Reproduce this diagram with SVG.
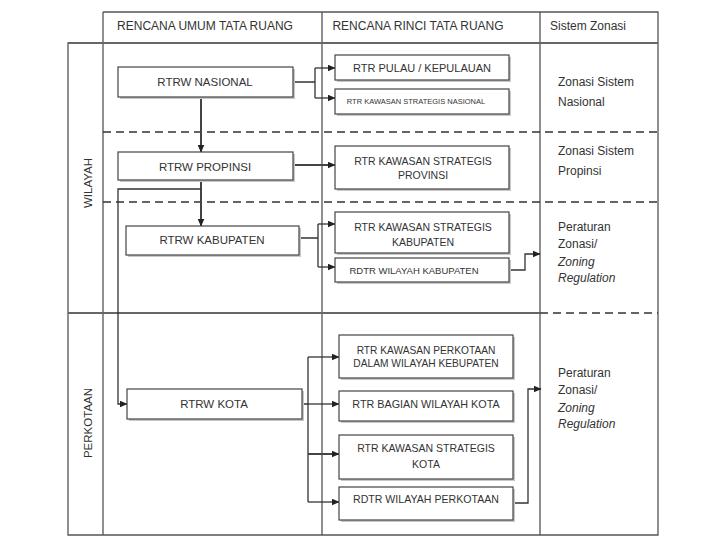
<svg xmlns="http://www.w3.org/2000/svg" width="720" height="540" viewBox="0 0 720 540">
<style>
.frame{fill:none;stroke:#555;stroke-width:1.3}
.thick{fill:none;stroke:#666;stroke-width:2.2}
.dash{fill:none;stroke:#333;stroke-width:1.4;stroke-dasharray:8 5}
.box{fill:#fff;stroke:#444;stroke-width:1.2}
.shadow{fill:#c8c8c8}
.t{font-family:"Liberation Sans",Arial,sans-serif;fill:#333;text-anchor:middle;dominant-baseline:central}
.z{font-family:"Liberation Sans",Arial,sans-serif;fill:#333;font-size:12px;dominant-baseline:central}
.i{font-style:italic}
.c{fill:none;stroke:#333;stroke-width:1.3}
.cb{fill:none;stroke:#444;stroke-width:2}
</style>
<defs>
<marker id="ah" markerWidth="8" markerHeight="7" refX="7.5" refY="3.5" orient="auto" markerUnits="userSpaceOnUse">
<path d="M0,0 L8,3.5 L0,7 z" fill="#222"/>
</marker>
</defs>
<rect width="720" height="540" fill="#fff"/>
<g id="table">
<path class="frame" d="M103,12 H658 V535 H68 V43 H103"/>
<path class="frame" d="M103,12 V535 M322,12 V535 M540,12 V535"/>
<path class="thick" d="M68,43 H658"/>
<path class="thick" d="M68,313 H540"/>
<path class="dash" d="M103,132 H658 M103,202 H658 M540,313 H658"/>
<text class="t" x="205" y="26" font-size="12">RENCANA UMUM TATA RUANG</text>
<text class="t" x="418" y="26" font-size="12">RENCANA RINCI TATA RUANG</text>
<text class="t" x="588" y="26" font-size="12">Sistem Zonasi</text>
<text class="t" x="88" y="183" font-size="11.5" transform="rotate(-90 88 183)">WILAYAH</text>
<text class="t" x="88" y="423" font-size="11.5" transform="rotate(-90 88 423)">PERKOTAAN</text>
</g>
<g id="connectors">
<path class="c" d="M293,82 H315 M315,68 V98"/>
<path class="c" d="M315,68 H335" marker-end="url(#ah)"/>
<path class="c" d="M315,98 H335" marker-end="url(#ah)"/>
<path class="cb" d="M201,97 V152" marker-end="url(#ah)"/>
<path class="cb" d="M293,165 H335" marker-end="url(#ah)"/>
<path class="cb" d="M201,180 V226" marker-end="url(#ah)"/>
<path class="c" d="M201,189 H118 V404 H127" marker-end="url(#ah)"/>
<path class="c" d="M299,238 H318 M318,224 V267"/>
<path class="c" d="M318,224 H335" marker-end="url(#ah)"/>
<path class="c" d="M318,267 H335" marker-end="url(#ah)"/>
<path class="c" d="M509,270 H525 V254 H540" marker-end="url(#ah)"/>
<path class="c" d="M302,404 H308 M308,357 V502"/>
<path class="c" d="M308,357 H339" marker-end="url(#ah)"/>
<path class="c" d="M308,404 H339" marker-end="url(#ah)"/>
<path class="cb" d="M308,454 H339" marker-end="url(#ah)"/>
<path class="c" d="M308,502 H339" marker-end="url(#ah)"/>
<path class="c" d="M513,503 H528 V389 H541" marker-end="url(#ah)"/>
</g>
<g id="rtrw-nasional">
<rect class="shadow" x="120" y="69" width="175" height="30"/>
<rect class="box" x="118" y="67" width="175" height="30"/>
<text class="t" x="205" y="82" font-size="11.5">RTRW NASIONAL</text>
</g>
<g id="rtr-pulau">
<rect class="shadow" x="337" y="57" width="174" height="25"/>
<rect class="box" x="335" y="55" width="174" height="25"/>
<text class="t" x="422" y="67.5" font-size="11">RTR PULAU / KEPULAUAN</text>
</g>
<g id="rtr-ks-nasional">
<rect class="shadow" x="337" y="91" width="174" height="25"/>
<rect class="box" x="335" y="89" width="174" height="25"/>
<text class="t" x="416" y="101.5" font-size="7.5">RTR KAWASAN STRATEGIS NASIONAL</text>
</g>
<g id="rtrw-propinsi">
<rect class="shadow" x="120" y="154" width="175" height="28"/>
<rect class="box" x="118" y="152" width="175" height="28"/>
<text class="t" x="205" y="167" font-size="11.5">RTRW PROPINSI</text>
</g>
<g id="rtr-ks-provinsi">
<rect class="shadow" x="337" y="148" width="174" height="43"/>
<rect class="box" x="335" y="146" width="174" height="43"/>
<text class="t" x="423" y="161" font-size="10.5">RTR KAWASAN STRATEGIS</text>
<text class="t" x="423" y="175" font-size="10.5">PROVINSI</text>
</g>
<g id="rtrw-kabupaten">
<rect class="shadow" x="128" y="228" width="173" height="29"/>
<rect class="box" x="126" y="226" width="173" height="29"/>
<text class="t" x="212" y="240" font-size="11.5">RTRW KABUPATEN</text>
</g>
<g id="rtr-ks-kabupaten">
<rect class="shadow" x="337" y="214" width="174" height="41"/>
<rect class="box" x="335" y="212" width="174" height="41"/>
<text class="t" x="423" y="227" font-size="10.5">RTR KAWASAN STRATEGIS</text>
<text class="t" x="423" y="242" font-size="10.5">KABUPATEN</text>
</g>
<g id="rdtr-kabupaten">
<rect class="shadow" x="337" y="260" width="174" height="24"/>
<rect class="box" x="335" y="258" width="174" height="24"/>
<text class="t" x="414" y="270" font-size="9.5">RDTR WILAYAH KABUPATEN</text>
</g>
<g id="rtrw-kota">
<rect class="shadow" x="129" y="391" width="175" height="30"/>
<rect class="box" x="127" y="389" width="175" height="30"/>
<text class="t" x="214" y="404" font-size="11.5">RTRW KOTA</text>
</g>
<g id="rtr-kawasan-perkotaan">
<rect class="shadow" x="341" y="337" width="174" height="43"/>
<rect class="box" x="339" y="335" width="174" height="43"/>
<text class="t" x="426" y="350" font-size="10.2">RTR KAWASAN PERKOTAAN</text>
<text class="t" x="426" y="363" font-size="10.2">DALAM WILAYAH KEBUPATEN</text>
</g>
<g id="rtr-bagian-wilayah-kota">
<rect class="shadow" x="341" y="393" width="174" height="30"/>
<rect class="box" x="339" y="391" width="174" height="30"/>
<text class="t" x="426" y="404" font-size="10.8">RTR BAGIAN WILAYAH KOTA</text>
</g>
<g id="rtr-ks-kota">
<rect class="shadow" x="341" y="437" width="174" height="44"/>
<rect class="box" x="339" y="435" width="174" height="44"/>
<text class="t" x="426" y="448" font-size="10.5">RTR KAWASAN STRATEGIS</text>
<text class="t" x="426" y="464" font-size="10.5">KOTA</text>
</g>
<g id="rdtr-perkotaan">
<rect class="shadow" x="341" y="489" width="174" height="33"/>
<rect class="box" x="339" y="487" width="174" height="33"/>
<text class="t" x="426" y="499" font-size="10.6">RDTR WILAYAH PERKOTAAN</text>
</g>
<g id="zonasi-nasional">
<text class="z" x="558" y="82">Zonasi Sistem</text>
<text class="z" x="558" y="102">Nasional</text>
</g>
<g id="zonasi-propinsi">
<text class="z" x="558" y="151">Zonasi Sistem</text>
<text class="z" x="558" y="171">Propinsi</text>
</g>
<g id="peraturan-kabupaten">
<text class="z" x="558" y="227">Peraturan</text>
<text class="z" x="558" y="244">Zonasi/</text>
<text class="z i" x="558" y="262">Zoning</text>
<text class="z i" x="558" y="278">Regulation</text>
</g>
<g id="peraturan-kota">
<text class="z" x="558" y="373">Peraturan</text>
<text class="z" x="558" y="390">Zonasi/</text>
<text class="z i" x="558" y="408">Zoning</text>
<text class="z i" x="558" y="424">Regulation</text>
</g>
</svg>
